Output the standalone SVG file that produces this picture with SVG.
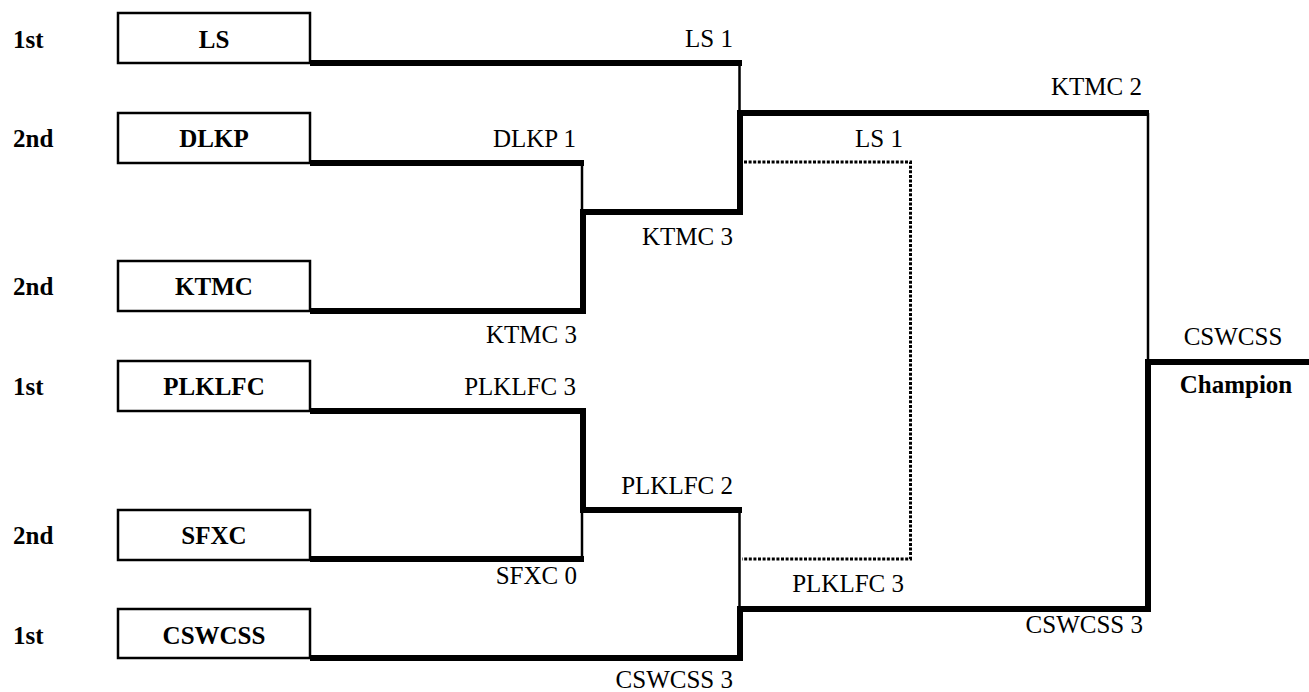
<svg xmlns="http://www.w3.org/2000/svg" width="1309" height="692" viewBox="0 0 1309 692">
<style>
text{font-family:'Liberation Serif','Times New Roman',Tinos,'Nimbus Roman','DejaVu Serif',serif;font-size:25px;fill:#000}
.b{font-weight:bold}
.c{text-anchor:middle}
.e{text-anchor:end}
.box{fill:#fff;stroke:#000;stroke-width:2.5}
.thick{fill:none;stroke:#000;stroke-width:6;stroke-linecap:square;stroke-linejoin:miter}
.thin{fill:none;stroke:#000;stroke-width:2.5}
.dot{fill:none;stroke:#000;stroke-width:3;stroke-dasharray:3 1.6}
</style>
<rect width="1309" height="692" fill="#fff"/>
<g id="seeds" font-family="Liberation Serif, serif">
<text class="b" x="13" y="48">1st</text>
<text class="b" x="13" y="147">2nd</text>
<text class="b" x="13" y="295">2nd</text>
<text class="b" x="13" y="395">1st</text>
<text class="b" x="13" y="544">2nd</text>
<text class="b" x="13" y="644">1st</text>
</g>
<g id="node-LS"><rect class="box" x="118" y="13" width="192" height="50"/><text class="b c" x="214" y="48">LS</text></g>
<g id="node-DLKP"><rect class="box" x="118" y="113" width="192" height="50"/><text class="b c" x="214" y="147">DLKP</text></g>
<g id="node-KTMC"><rect class="box" x="118" y="261" width="192" height="50"/><text class="b c" x="214" y="295">KTMC</text></g>
<g id="node-PLKLFC"><rect class="box" x="118" y="361" width="192" height="50"/><text class="b c" x="214" y="395">PLKLFC</text></g>
<g id="node-SFXC"><rect class="box" x="118" y="510" width="192" height="50"/><text class="b c" x="214" y="544">SFXC</text></g>
<g id="node-CSWCSS"><rect class="box" x="118" y="609" width="192" height="49"/><text class="b c" x="214" y="644">CSWCSS</text></g>
<g id="connectors">
<polyline class="thick" points="313,63 739,63"/>
<polyline class="thick" points="313,163 581,163"/>
<polyline class="thick" points="313,311 583,311 583,212 740,212 740,113 1146,113"/>
<polyline class="thick" points="313,411 583,411 583,510 739,510"/>
<polyline class="thick" points="313,559 581,559"/>
<polyline class="thick" points="313,658 740,658 740,609 1148,609 1148,362 1306,362"/>
<line class="thin" x1="739.5" y1="63" x2="739.5" y2="110"/>
<line class="thin" x1="582" y1="163" x2="582" y2="209"/>
<line class="thin" x1="582" y1="510" x2="582" y2="559"/>
<line class="thin" x1="739.5" y1="510" x2="739.5" y2="607"/>
<line class="thin" x1="1148" y1="113" x2="1148" y2="360"/>
<polyline class="dot" points="744,162 910.5,162 910.5,559 742,559"/>
</g>
<g id="labels">
<text class="e" x="733" y="47">LS 1</text>
<text class="e" x="576" y="147">DLKP 1</text>
<text class="e" x="733" y="245">KTMC 3</text>
<text class="e" x="577" y="343">KTMC 3</text>
<text class="e" x="903" y="147">LS 1</text>
<text class="e" x="1142" y="95">KTMC 2</text>
<text class="e" x="576" y="395">PLKLFC 3</text>
<text class="e" x="733" y="494">PLKLFC 2</text>
<text class="e" x="577" y="584">SFXC 0</text>
<text class="e" x="904" y="592">PLKLFC 3</text>
<text class="e" x="733" y="688">CSWCSS 3</text>
<text class="e" x="1143" y="633">CSWCSS 3</text>
<text class="c" x="1233" y="345">CSWCSS</text>
<text class="b c" x="1236" y="393">Champion</text>
</g>
</svg>
